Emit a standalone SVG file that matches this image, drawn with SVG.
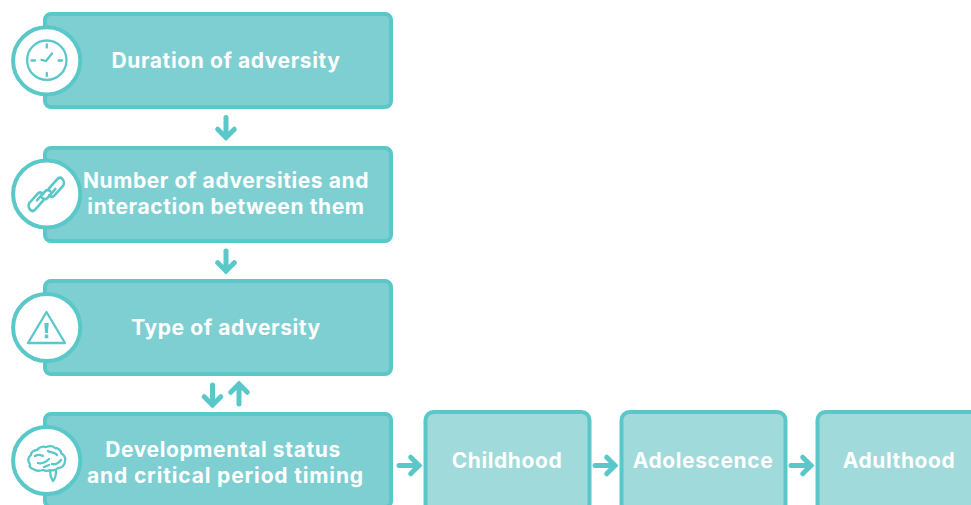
<svg xmlns="http://www.w3.org/2000/svg" width="971" height="505" viewBox="0 0 971 505">
<style>
.box{fill:#7ecfd2;stroke:#5ac7c9;stroke-width:4}
.pale{fill:#a0dadb;stroke:#5ac7c9;stroke-width:4}
.disc{fill:#fff;stroke:#5ac7c9;stroke-width:4}
.ic{fill:none;stroke:#5ac7c9;stroke-width:2.300;stroke-linecap:round;stroke-linejoin:round}
.ar{fill:none;stroke:#5ac7c9;stroke-width:5;stroke-linecap:round;stroke-linejoin:miter}
text{font-family:"Inter","Liberation Sans",sans-serif;font-weight:700;font-size:21px;letter-spacing:.6px;fill:#fff;text-anchor:middle}
</style>
<g id="n-duration">
<rect class="box" x="45" y="14" width="346" height="93" rx="6"/>
<circle class="disc" cx="46.700" cy="60.800" r="33.600"/>
<g class="ic"><circle cx="46.800" cy="60.200" r="19.700"/><path d="M46.800 44.500v3M46.800 73v3M31.500 60.500h3.500M58.500 60.500h3.500M41.500 59.800l4.500 1.200 6-7.500"/></g>
<text x="226" y="67.500">Duration of adversity</text>
</g>
<g id="n-number">
<rect class="box" x="45" y="148" width="346" height="93" rx="6"/>
<circle class="disc" cx="46.700" cy="194" r="33.600"/>
<g class="ic" transform="translate(46.500 194) scale(1 1.250) translate(-46.500 -194)" stroke-width="2"><path d="M43 199.500l-8.500 7.500a4 4 0 0 1-5-6l8.500-7.500a4 4 0 0 1 5 .5"/><path d="M37 199l8.500-7.500a4 4 0 0 1 5 .5"/><path d="M49 189.500l9-8a4 4 0 0 1 5 6l-9 8a4 4 0 0 1-5-.5"/><path d="M55.500 190l-8.500 7.500a4 4 0 0 1-5-.5"/></g>
<text x="226" y="188">Number of adversities and</text>
<text x="226" y="214">interaction between them</text>
</g>
<g id="n-type">
<rect class="box" x="45" y="281" width="346" height="93" rx="6"/>
<circle class="disc" cx="46.700" cy="327.500" r="33.600"/>
<path class="ic" d="M46.500 312L28 343h37z"/>
<path d="M44.300 323h4.400l-.8 10h-2.800zM44.700 334.500h3.600v3.800h-3.600z" fill="#5ac7c9"/>
<text x="226" y="335">Type of adversity</text>
</g>
<g id="n-dev">
<rect class="box" x="45" y="414" width="346" height="93" rx="6"/>
<circle class="disc" cx="46.700" cy="460.500" r="33.600"/>
<g class="ic" stroke-width="1.700"><path d="M33 469c-3-1-4-3-3-5-3-3-2-7 1-9 0-3 3-5 6-5 2-3 6-4 9-3 3-1 7-1 9 1 3 0 6 2 6 5 3 2 5 5 4 8 0 4-3 7-7 7-2 2-5 3-8 2-2 1-5 1-7 0-3 1-7 1-10-1z"/><path d="M50 471c0 4 1 7 3 10 2-2 3-6 3-10M35 456c3-2 6-1 8 0M48 451c3 2 7 1 9 4M38 463c4 1 8-1 11-4M52 464c3 1 7-1 9-4M44 467l5-2"/></g>
<text x="223" y="457">Developmental status</text>
<text x="225.500" y="483" style="letter-spacing:.85px">and critical period timing</text>
</g>
<g id="n-child"><rect class="pale" x="425.500" y="412" width="164" height="100" rx="8"/><text x="507" y="468">Childhood</text></g>
<g id="n-adol"><rect class="pale" x="621.500" y="412" width="164" height="100" rx="8"/><text x="703" y="468">Adolescence</text></g>
<g id="n-adult"><rect class="pale" x="817.500" y="412" width="164" height="100" rx="8"/><text x="899" y="468">Adulthood</text></g>
<g id="connectors">
<path class="ar" d="M226 117.500v20M217.700 129.200l8.300 8.300 8.300-8.300"/>
<path class="ar" d="M226 251v20M217.700 262.700l8.300 8.300 8.300-8.300"/>
<path class="ar" d="M212.500 385v20M204.200 396.700l8.300 8.300 8.300-8.300"/>
<path class="ar" d="M239 404v-20M230.700 392.300l8.300-8.300 8.300 8.300"/>
<path class="ar" d="M399 465.500h20M410.700 457.200l8.300 8.300-8.300 8.300"/>
<path class="ar" d="M595 465.500h20M606.700 457.200l8.300 8.300-8.300 8.300"/>
<path class="ar" d="M791 465.500h20M802.700 457.200l8.300 8.300-8.300 8.300"/>
</g>
</svg>
